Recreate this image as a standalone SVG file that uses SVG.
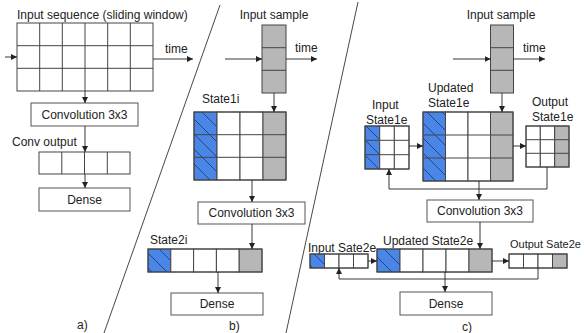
<svg xmlns="http://www.w3.org/2000/svg" width="584" height="333" viewBox="0 0 584 333">
<style>
text{font-family:"Liberation Sans",Arial,sans-serif;font-size:12px;fill:#222}
.c{text-anchor:middle}
.box{fill:#fff;stroke:#555;stroke-width:1}
.cell{fill:#fff;stroke:#444;stroke-width:1}
.g{fill:#b7b7b7;stroke:#444;stroke-width:1}
.b{fill:#4a86e8;stroke:#444;stroke-width:1}
.h{fill:url(#hatch);stroke:none}
.ln{fill:none;stroke:#444;stroke-width:1}
.ar{fill:none;stroke:#222;stroke-width:0.9;marker-end:url(#ah)}
.sep{stroke:#333;stroke-width:0.9}
</style>
<defs>
<marker id="ah" markerUnits="userSpaceOnUse" markerWidth="7" markerHeight="6" refX="6" refY="3" orient="auto">
<path d="M0,0 L6,3 L0,6 z" fill="#222"/>
</marker>
<pattern id="hatch" patternUnits="userSpaceOnUse" width="15" height="15">
<path d="M-1,-1 L16,16" stroke="#1f3560" stroke-width="0.8"/>
</pattern>
</defs>

<!-- separators -->
<line class="sep" x1="220" y1="5" x2="104" y2="333"/>
<line class="sep" x1="358" y1="2" x2="286" y2="333"/>

<!-- Panel a -->
<g id="a-input">
<text x="17" y="19">Input sequence (sliding window)</text>
<rect class="cell" x="17" y="23" width="136" height="68"/>
<path class="ln" d="M39.7,23V91M62.3,23V91M85,23V91M107.7,23V91M130.3,23V91M17,45.7H153M17,68.3H153"/>
</g>
<g id="a-time"><text x="165" y="53">time</text></g>
<g id="a-conv">
<rect class="box" x="31" y="103" width="107" height="23"/>
<text class="c" x="84.5" y="119">Convolution 3x3</text>
</g>
<g id="a-convout">
<text x="12" y="146">Conv output</text>
<rect class="cell" x="39" y="152" width="91" height="22"/>
<path class="ln" d="M61.8,152V174M84.5,152V174M107.3,152V174"/>
</g>
<g id="a-dense">
<rect class="box" x="39" y="188" width="91" height="23"/>
<text class="c" x="84.5" y="204">Dense</text>
</g>
<text x="77" y="329">a)</text>

<!-- Panel b -->
<g id="b-sample">
<text class="c" x="274" y="19">Input sample</text>
<rect class="g" x="262" y="25" width="24" height="68"/>
<path class="ln" d="M262,47.7H286M262,70.3H286"/>
</g>
<g id="b-time"><text x="295" y="52">time</text></g>
<g id="b-state1i">
<text x="202" y="103">State1i</text>
<rect class="b" x="194" y="112" width="23" height="68"/>
<rect class="h" x="194" y="112" width="23" height="68"/>
<rect class="cell" x="217" y="112" width="23" height="68"/>
<rect class="cell" x="240" y="112" width="23" height="68"/>
<rect class="g" x="263" y="112" width="23" height="68"/>
<path class="ln" d="M194,134.7H286M194,157.3H286"/>
<rect class="ln" x="194" y="112" width="92" height="68"/>
</g>
<g id="b-conv">
<rect class="box" x="198" y="202" width="107" height="22"/>
<text class="c" x="251.5" y="217">Convolution 3x3</text>
</g>
<g id="b-state2i">
<text x="150" y="244">State2i</text>
<rect class="b" x="148" y="249" width="22.8" height="23"/>
<rect class="h" x="148" y="249" width="22.8" height="23"/>
<rect class="cell" x="170.8" y="249" width="22.8" height="23"/>
<rect class="cell" x="193.6" y="249" width="22.8" height="23"/>
<rect class="cell" x="216.4" y="249" width="22.8" height="23"/>
<rect class="g" x="239.2" y="249" width="22.8" height="23"/>
<rect class="ln" x="148" y="249" width="114" height="23"/>
</g>
<g id="b-dense">
<rect class="box" x="171" y="293" width="92" height="22"/>
<text class="c" x="217" y="308">Dense</text>
</g>
<text x="229" y="330">b)</text>

<!-- Panel c -->
<g id="c-sample">
<text class="c" x="501" y="19">Input sample</text>
<rect class="g" x="490.5" y="25" width="23" height="68"/>
<path class="ln" d="M490.5,47.7H513.5M490.5,70.3H513.5"/>
</g>
<g id="c-time"><text x="523" y="52">time</text></g>
<g id="c-updated1">
<text x="428" y="92">Updated</text>
<text x="428" y="107">State1e</text>
<rect class="b" x="423" y="112" width="22.5" height="69"/>
<rect class="h" x="423" y="112" width="22.5" height="69"/>
<rect class="cell" x="445.5" y="112" width="22.5" height="69"/>
<rect class="cell" x="468" y="112" width="22.5" height="69"/>
<rect class="g" x="490.5" y="112" width="22.5" height="69"/>
<path class="ln" d="M423,135H513M423,158H513"/>
<rect class="ln" x="423" y="112" width="90" height="69"/>
</g>
<g id="c-input1">
<text x="372" y="109">Input</text>
<text x="366" y="124">State1e</text>
<rect class="b" x="365" y="126" width="14.7" height="43"/>
<rect class="h" x="365" y="126" width="14.7" height="43"/>
<rect class="cell" x="379.7" y="126" width="14.7" height="43"/>
<rect class="cell" x="394.3" y="126" width="14.7" height="43"/>
<path class="ln" d="M365,140.3H409M365,154.7H409"/>
<rect class="ln" x="365" y="126" width="44" height="43"/>
</g>
<g id="c-output1">
<text x="532" y="106">Output</text>
<text x="532" y="121">State1e</text>
<rect class="cell" x="526" y="126" width="14.3" height="41"/>
<rect class="cell" x="540.3" y="126" width="14.3" height="41"/>
<rect class="g" x="554.7" y="126" width="14.3" height="41"/>
<path class="ln" d="M526,139.7H569M526,153.3H569"/>
<rect class="ln" x="526" y="126" width="43" height="41"/>
</g>
<g id="c-conv">
<rect class="box" x="427" y="200" width="106" height="22"/>
<text class="c" x="480" y="215">Convolution 3x3</text>
</g>
<g id="c-updated2">
<text x="383" y="245">Updated State2e</text>
<rect class="b" x="377" y="249" width="23" height="23"/>
<rect class="h" x="377" y="249" width="23" height="23"/>
<rect class="cell" x="400" y="249" width="23" height="23"/>
<rect class="cell" x="423" y="249" width="23" height="23"/>
<rect class="cell" x="446" y="249" width="23" height="23"/>
<rect class="g" x="469" y="249" width="23" height="23"/>
<rect class="ln" x="377" y="249" width="115" height="23"/>
</g>
<g id="c-input2">
<text x="308" y="252">Input Sate2e</text>
<rect class="b" x="310" y="254" width="14.5" height="14"/>
<rect class="h" x="310" y="254" width="14.5" height="14"/>
<rect class="cell" x="324.5" y="254" width="14.5" height="14"/>
<rect class="cell" x="339" y="254" width="14.5" height="14"/>
<rect class="cell" x="353.5" y="254" width="14.5" height="14"/>
<rect class="ln" x="310" y="254" width="58" height="14"/>
</g>
<g id="c-output2">
<text x="510" y="248" style="font-size:11px">Output Sate2e</text>
<rect class="cell" x="509" y="254" width="14.5" height="14"/>
<rect class="cell" x="523.5" y="254" width="14.5" height="14"/>
<rect class="cell" x="538" y="254" width="14.5" height="14"/>
<rect class="g" x="552.5" y="254" width="14.5" height="14"/>
<rect class="ln" x="509" y="254" width="58" height="14"/>
</g>
<g id="c-dense">
<rect class="box" x="400" y="292" width="92" height="23"/>
<text class="c" x="446" y="308">Dense</text>
</g>
<text x="462" y="331">c)</text>

<!-- connectors -->
<g id="connectors">
<path class="ar" d="M5,57H17"/>
<path class="ar" d="M153,59H193"/>
<path class="ar" d="M85,91V103"/>
<path class="ar" d="M85,126V152"/>
<path class="ar" d="M85,174V188"/>

<path class="ar" d="M225,59H262"/>
<path class="ar" d="M286,59H317"/>
<path class="ar" d="M274,93V112"/>
<path class="ar" d="M252,180V202"/>
<path class="ar" d="M252,224V249"/>
<path class="ar" d="M218,272V293"/>

<path class="ar" d="M453,59H490.5"/>
<path class="ar" d="M513.5,59H545"/>
<path class="ar" d="M502,93V112"/>
<path class="ar" d="M409,146H423"/>
<path class="ar" d="M513,146H526"/>
<path class="ar" d="M547,167V189H389V169"/>
<path class="ar" d="M479,181V200"/>
<path class="ar" d="M480,222V249"/>
<path class="ar" d="M368,261H377"/>
<path class="ar" d="M492,261H509"/>
<path class="ar" d="M538,268V279H339V268"/>
<path class="ar" d="M445,272V292"/>
</g>
</svg>
